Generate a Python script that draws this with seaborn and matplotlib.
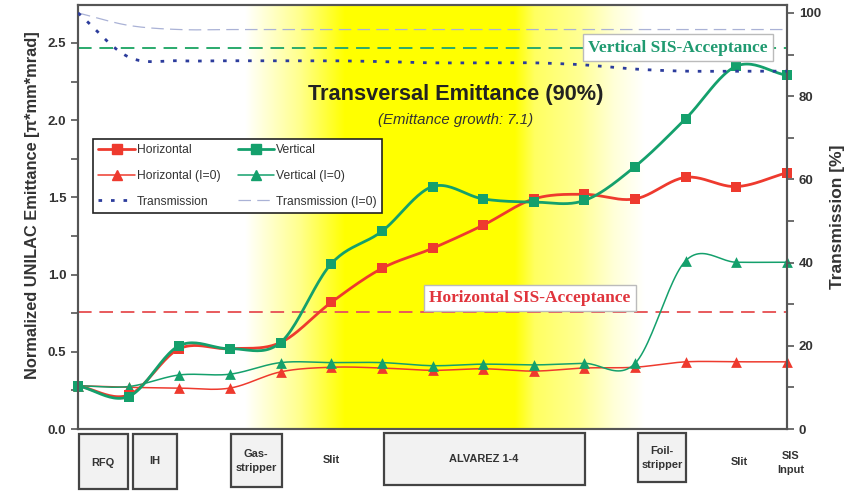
import numpy as np
import matplotlib
matplotlib.use("Agg")
import matplotlib.pyplot as plt
import seaborn as sns
from matplotlib.lines import Line2D
from matplotlib.patches import Rectangle

# Messpunkte entlang des UNILAC (15 Stationen)
positionen = np.arange(15)
horizontal = [0.28, 0.22, 0.52, 0.52, 0.56, 0.82, 1.04, 1.17, 1.32, 1.49, 1.52, 1.49, 1.63, 1.57, 1.66]
vertikal = [0.28, 0.21, 0.54, 0.52, 0.56, 1.07, 1.28, 1.57, 1.49, 1.47, 1.48, 1.70, 2.01, 2.35, 2.29]
horizontal_i0 = [0.28, 0.27, 0.265, 0.265, 0.37, 0.40, 0.395, 0.38, 0.39, 0.375, 0.395, 0.40, 0.435, 0.435, 0.435]
vertikal_i0 = [0.28, 0.275, 0.35, 0.355, 0.43, 0.43, 0.43, 0.41, 0.42, 0.415, 0.425, 0.425, 1.09, 1.08, 1.08]
transmission = [100, 89.4, 88.5, 88.5, 88.5, 88.5, 88.3, 88.0, 88.0, 88.0, 87.5, 86.5, 86.0, 86.0, 86.0]
transmission_i0 = [100, 97, 96, 96, 96, 96, 96, 96, 96, 96, 96, 96, 96, 96, 96]

akzeptanz_h = 0.76
akzeptanz_v = 2.47

# Beschleunigerelemente unter der Achse
elemente = ["RFQ", "IH", "Gas-\nstripper", "Slit", "ALVAREZ 1-4", "Foil-\nstripper", "Slit", "SIS\nInput"]

ROT = "#ee3a2e"
GRUEN = "#14a06c"
BLAU = "#2c3c9c"
HELLBLAU = "#aab2d6"

W, H = 863, 491


def catmull_rom(x, y, n=24):
    # glatte Kurve durch die Messpunkte (wie "geglättete Linie")
    x = np.asarray(x, float)
    y = np.asarray(y, float)
    px = np.concatenate([[2 * x[0] - x[1]], x, [2 * x[-1] - x[-2]]])
    py = np.concatenate([[2 * y[0] - y[1]], y, [2 * y[-1] - y[-2]]])
    t = np.linspace(0, 1, n, endpoint=False)
    xs, ys = [], []
    for i in range(1, len(px) - 2):
        for p, out in ((px, xs), (py, ys)):
            p0, p1, p2, p3 = p[i - 1], p[i], p[i + 1], p[i + 2]
            out.append(0.5 * (2 * p1 + (-p0 + p2) * t + (2 * p0 - 5 * p1 + 4 * p2 - p3) * t ** 2
                              + (-p0 + 3 * p1 - 3 * p2 + p3) * t ** 3))
    xs.append([x[-1]])
    ys.append([y[-1]])
    return np.concatenate(xs), np.concatenate(ys)


def fx(px):
    return px / W


def fy(py):
    return 1 - py / H


sns.set_style("ticks")
plt.rcParams["font.family"] = ["Liberation Sans", "DejaVu Sans"]

fig = plt.figure(figsize=(W / 100, H / 100), dpi=100)
ax = fig.add_axes([fx(78), fy(429), (787 - 78) / W, (429 - 5) / H])
ax.set_xlim(0, 14)
ax.set_ylim(0, 2.746)

# gelber Hintergrund
pix = np.arange(78, 788)
stuetz_px = [78, 245, 300, 345, 515, 535, 580, 615, 645, 787]
stuetz_a = [0, 0, 0.45, 1.0, 1.0, 0.62, 0.42, 0.15, 0, 0]
alpha = np.interp(pix, stuetz_px, stuetz_a)
bild = np.ones((2, len(pix), 3))
bild[:, :, 2] = 1 - alpha
ax.imshow(bild, extent=(0, 14, 0, 2.746), aspect="auto", zorder=0, interpolation="bilinear")

# Akzeptanzlinien
ax.axhline(akzeptanz_h, color="#e85a5c", lw=1.4, dashes=(7, 4), zorder=2)
ax.axhline(akzeptanz_v, color="#2aaa6c", lw=1.4, dashes=(7, 4), zorder=2)

# Emittanzkurven
for werte, farbe, lw, marker, groesse in [
    (horizontal_i0, ROT, 1.1, "^", 60),
    (vertikal_i0, GRUEN, 1.1, "^", 60),
    (horizontal, ROT, 2.0, "s", 48),
    (vertikal, GRUEN, 2.0, "s", 48),
]:
    sx, sy = catmull_rom(positionen, werte)
    ax.plot(sx, sy, color=farbe, lw=lw, zorder=3, clip_on=False, solid_capstyle="round")
    sns.scatterplot(x=positionen, y=werte, marker=marker, color=farbe, s=groesse,
                    linewidth=0, ax=ax, zorder=4, clip_on=False)

ax.set_yticks(np.arange(0, 2.51, 0.5))
ax.set_yticks(np.arange(0.25, 2.75, 0.5), minor=True)
ax.set_xticks([])
ax.set_ylabel("Normalized UNILAC Emittance [π*mm*mrad]", fontsize=11.8, fontweight="bold",
              color="#333333")
ax.yaxis.set_label_coords(-0.053, (429 - 205) / 424)

# Transmission auf zweiter Achse
ax2 = ax.twinx()
ax2.set_ylim(0, 101.9)
tx, ty = catmull_rom(positionen, transmission)
ax2.plot(tx, ty, color=BLAU, lw=2.0, dashes=(1.3, 3.2), zorder=3)
tx0, ty0 = catmull_rom(positionen, transmission_i0)
ax2.plot(tx0, ty0, color=HELLBLAU, lw=0.9, dashes=(10, 5), zorder=2)
ax2.set_yticks(np.arange(0, 101, 20))
ax2.set_yticks(np.arange(10, 100, 20), minor=True)
ax2.set_ylabel("Transmission [%]", fontsize=12.5, fontweight="bold", color="#333333")
ax2.yaxis.set_label_coords(1.061, (429 - 217) / 424)

for a in (ax, ax2):
    for s in a.spines.values():
        s.set_color("#555555")
        s.set_linewidth(1.5)
    a.tick_params(axis="y", which="major", length=5, width=1.2, color="#555555",
                  labelsize=9.5, labelcolor="#333333")
    a.tick_params(axis="y", which="minor", length=5, width=1.2, color="#555555")
    for lab in a.get_yticklabels():
        lab.set_fontweight("bold")

# Titel
ax.text(0.533, (429 - 95) / 424, "Transversal Emittance (90%)", transform=ax.transAxes,
        ha="center", va="center", fontsize=15.7, fontweight="bold", color="#222222")
ax.text(0.533, (429 - 120) / 424, "(Emittance growth: 7.1)", transform=ax.transAxes,
        ha="center", va="center", fontsize=10.8, style="italic", color="#333333")

# Beschriftung Akzeptanz
box = dict(boxstyle="square,pad=0.3", facecolor="white", edgecolor="#bbbbbb", lw=1)
ax2.text(0.846, akzeptanz_v / 2.746, "Vertical SIS-Acceptance", transform=ax2.transAxes,
         ha="center", va="center", fontsize=12.5, fontweight="bold", color="#1f9a70",
         family=["Liberation Serif", "DejaVu Serif"], bbox=box, zorder=6)
ax2.text(0.637, (429 - 298) / 424, "Horizontal SIS-Acceptance", transform=ax2.transAxes,
         ha="center", va="center", fontsize=12.5, fontweight="bold", color="#e0343c",
         family=["Liberation Serif", "DejaVu Serif"], bbox=box, zorder=6)

# Legende
griffe = [
    Line2D([], [], color=ROT, lw=2.0, marker="s", markersize=7),
    Line2D([], [], color=ROT, lw=1.1, marker="^", markersize=7.5),
    Line2D([], [], color=BLAU, lw=2.0, dashes=(1.3, 3.2)),
    Line2D([], [], color=GRUEN, lw=2.0, marker="s", markersize=7),
    Line2D([], [], color=GRUEN, lw=1.1, marker="^", markersize=7.5),
    Line2D([], [], color=HELLBLAU, lw=0.9, dashes=(10, 5)),
]
namen = ["Horizontal", "Horizontal (I=0)", "Transmission", "Vertical", "Vertical (I=0)",
         "Transmission (I=0)"]
leg = ax2.legend(griffe, namen, ncol=2, loc="upper left", bbox_to_anchor=(fx(93), fy(139)),
                 bbox_transform=fig.transFigure, borderaxespad=0, fontsize=8.7,
                 handlelength=3.0, labelspacing=1.12, columnspacing=1.4, handletextpad=0.2,
                 borderpad=0.45, frameon=True, fancybox=False)
leg.get_frame().set_edgecolor("#222222")
leg.get_frame().set_linewidth(1.2)
leg.get_frame().set_alpha(1)
leg.set_zorder(10)
for t in leg.get_texts():
    t.set_color("#333333")

# Elemente unter der Achse
kaesten = [(79, 128, 434, 489), (133, 177, 434, 489), (231, 282, 434, 487), None,
           (384, 585, 433, 485), (638, 686, 433, 482), None, None]
text_pos = [(103, 463), (155, 461), (256, 461), (331, 460), (484, 459), (662, 458),
            (739, 462), (791, 463)]
for name, k, (tx_, ty_) in zip(elemente, kaesten, text_pos):
    if k is not None:
        x0, x1, y0, y1 = k
        fig.add_artist(Rectangle((fx(x0), fy(y1)), (x1 - x0) / W, (y1 - y0) / H,
                                 transform=fig.transFigure, facecolor="#f2f2f2",
                                 edgecolor="#444444", lw=1.6))
    fig.text(fx(tx_), fy(ty_), name, ha="center", va="center", fontsize=7.9,
             fontweight="bold", color="#333333", linespacing=1.5)

fig.savefig("out.png", dpi=100)
